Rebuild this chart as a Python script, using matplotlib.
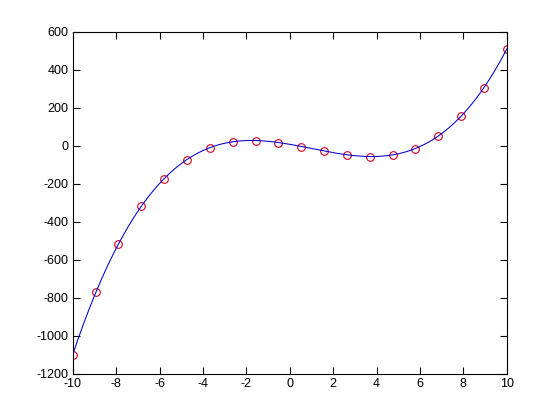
import numpy as np
import matplotlib
matplotlib.use("Agg")
import matplotlib.pyplot as plt

# data: 20 samples on [-10, 10]
x_points = np.linspace(-10, 10, 20)
y_points = [-1100, -772, -518, -317, -174, -74, -11, 21, 26, 16,
            -5, -29, -48, -58, -47, -17, 53, 154, 305, 508]
x_ticks = [-10, -8, -6, -4, -2, 0, 2, 4, 6, 8, 10]
y_ticks = [-1200, -1000, -800, -600, -400, -200, 0, 200, 400, 600]

plt.rcParams['font.family'] = ['Liberation Sans', 'DejaVu Sans']
plt.rcParams['axes.unicode_minus'] = False

fig = plt.figure(figsize=(5.6, 4.2), dpi=100)
ax = fig.add_axes([0.13, 0.11, 0.775, 0.815])

# smooth curve: cubic fit through the sampled points
coef = np.polyfit(x_points, y_points, 3)
xx = np.linspace(-10, 10, 400)
yy = np.polyval(coef, xx)

ax.plot(x_points, y_points, 'o', mfc='none', mec='#d00020', ms=5.5, mew=0.8, zorder=2)
ax.plot(xx, yy, color='#0000c8', lw=0.75, zorder=3)

ax.set_xlim(-10, 10)
ax.set_ylim(-1200, 600)
ax.set_xticks(x_ticks)
ax.set_yticks(y_ticks)
ax.tick_params(direction='in', length=5, width=0.8, labelsize=9,
               top=True, right=True, pad=3)
for s in ax.spines.values():
    s.set_linewidth(0.8)

fig.savefig("out.png", dpi=100)
plt.close(fig)
